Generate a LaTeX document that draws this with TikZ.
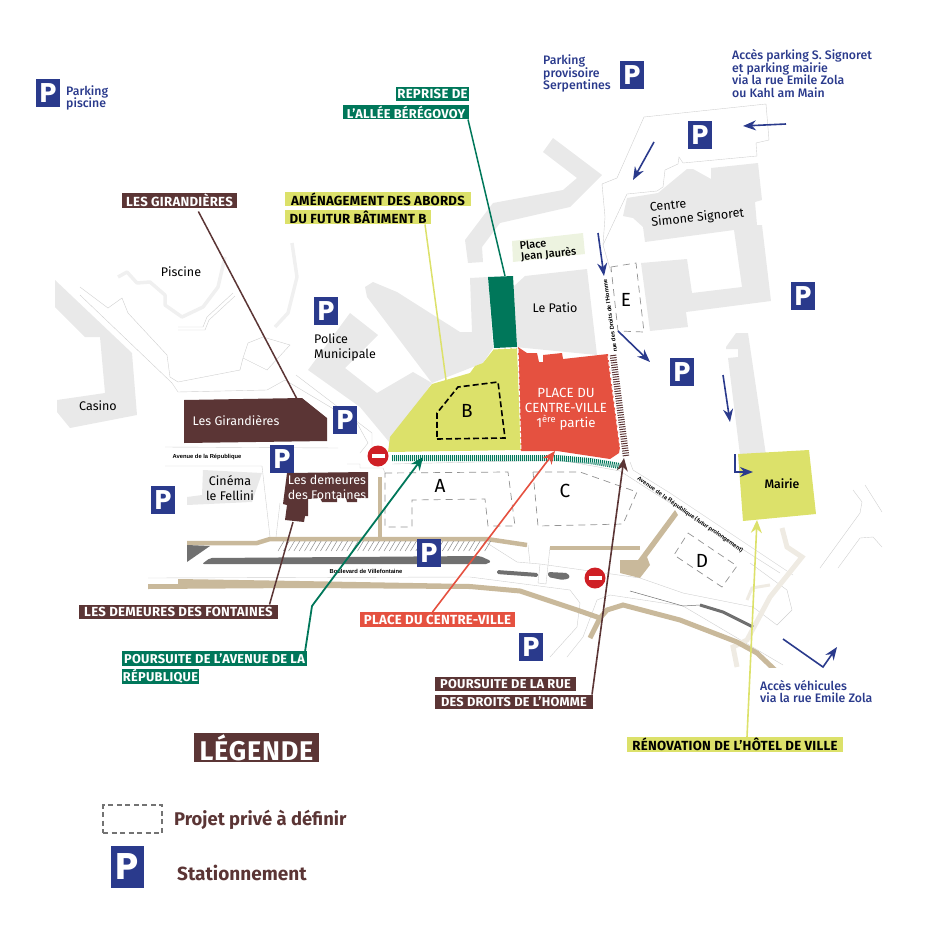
\documentclass[tikz,border=0pt]{standalone}
\usepackage{fontspec}
\setmainfont{Fira Sans}
\newfontfamily\bluefont{Fira Sans Medium}
\newfontfamily\parkfont{Poppins}
\newfontfamily\roadfont{Liberation Sans}
\usetikzlibrary{arrows.meta}
\definecolor{mapgrey}{HTML}{E9E9E9}
\definecolor{mapline}{HTML}{CFCFCF}
\definecolor{maptan}{HTML}{C9B99B}
\definecolor{mappale}{HTML}{EFEBE3}
\definecolor{mapfaint}{HTML}{F0F0F0}
\definecolor{mapdark}{HTML}{707070}
\definecolor{jaurespale}{HTML}{EDF3E0}
\definecolor{parkblue}{HTML}{2A3A8C}
\definecolor{tagbrown}{HTML}{5B3535}
\definecolor{taggreen}{HTML}{00775A}
\definecolor{tagred}{HTML}{E55140}
\definecolor{taglime}{HTML}{DCE16A}
\definecolor{noentryred}{HTML}{CF1F25}
\tikzset{
	building/.style={fill=mapgrey},
	thinroad/.style={draw=mapline,line width=0.4pt},
	tanroad/.style={draw=maptan,line width=4.5pt},
	paleroad/.style={draw=mappale,line width=5pt},
	faintwall/.style={draw=mapfaint,line width=3.5pt,line join=round},
	privatelot/.style={draw=gray!85,line width=0.7pt,dash pattern=on 7pt off 5pt},
	parkbox/.style={fill=parkblue,text=white,minimum width=24.5pt,minimum height=28.5pt,inner sep=0pt,font=\parkfont\bfseries\fontsize{27}{27}\selectfont},
	noentry/.style={circle,fill=noentryred,minimum size=21pt,inner sep=0pt,path picture={\fill[white] (-6.5,-2.2) rectangle (6.5,2.2);}},
	tag/.style={minimum height=14.5pt,inner sep=0pt,font=\fontsize{13.2}{13}\selectfont\bfseries\addfontfeature{LetterSpace=2}},
	tagtight/.style={font=\fontsize{12.8}{13}\selectfont\bfseries\addfontfeature{LetterSpace=2}},
	tagb/.style={tag,fill=tagbrown,text=white},
	tagg/.style={tag,fill=taggreen,text=white},
	tagr/.style={tag,fill=tagred,text=white},
	tagl/.style={tag,fill=taglime,text=black},
	placename/.style={inner sep=0pt,align=center,font=\fontsize{12.5}{15}\selectfont},
	lotname/.style={inner sep=0pt,font=\fontsize{19}{19}\selectfont},
	roadname/.style={inner sep=0pt,font=\roadfont\bfseries\fontsize{5.8}{6}\selectfont},
	bluetext/.style={inner sep=0pt,align=left,anchor=west,text=parkblue,font=\bluefont\fontsize{12.3}{12.6}\selectfont},
	leader/.style={line width=1.5pt},
	blackarrow/.style={line width=1.6pt,-{Stealth[length=13pt,width=11pt]}},
	bluearrow/.style={draw=parkblue,line width=1.6pt,-{Stealth[length=13pt,width=10pt]}}
}
\begin{document}
\begin{tikzpicture}[x=1pt,y=-1pt]
	\useasboundingbox (0,0) rectangle (945,945);
	% buildings
	\fill[building] (55,280)--(132,353)--(137,415)--(70,428)--(57,412)--(57,400)--(105,393)--(100,337)--(85,337)--(55,307)--cycle;
	\fill[building] (365,287)--(373,282)--(397,292)--(460,332)--(472,332)--(470,278)--(488,277)--(493,348)--(483,363)--(432,383)--(367,297)--cycle;
	\fill[building] (308,370)--(350,313)--(378,335)--(345,368)--(377,393)--(413,372)--(432,383)--(390,443)--(360,407)--cycle;
	\fill[building] (543,152)--(553,138)--(602,175)--(570,207)--(500,223)--(482,247)--(483,262)--(468,263)--(465,240)--(493,203)--(563,190)--(577,178)--cycle;
	\fill[building] (525,276)--(587,269)--(597,355)--(515,347)--(513,287)--cycle;
	\fill[building] (627,198)--(658,193)--(687,169)--(693,169)--(711,179)--(711,168)--(758,163)--(762,200)--(755,202)--(757,225)--(762,225)--(771,301)--(686,312)--(688,327)--(650,331)--(641,263)--(687,259)--(692,293)--(742,287)--(734,230)--(645,242)--(643,227)--(633,218)--(623,216)--cycle;
	\fill[building] (726,347)--(736,333)--(748,333)--(766,455)--(740,455)--(728,358)--(738,357)--(738,349)--(726,349)--cycle;
	\fill[building] (203,470)--(262,473)--(252,502)--(187,505)--(187,497)--(202,495)--cycle;
	% thin road outlines
	\draw[thinroad] (80,287)--(108,308)--(122,298)--(128,313)--(167,355)--(170,377)--(178,382)--(240,370)--(243,358)--(267,370)--(290,345)--(263,337)--(248,343)--(243,358);
	\draw[thinroad] (80,295)--(172,383)--(178,392)--(267,390)--(285,380)--(357,423)--(368,443)--(360,453);
	\draw[thinroad] (178,327)--(203,327)--(207,317)--(233,293);
	\draw[thinroad] (178,330)--(205,330)--(209,320)--(235,296);
	\draw[thinroad] (296,375)--(372,433)--(372,450);
	\draw[thinroad] (165,447)--(338,448);
	\draw[thinroad] (165,466)--(262,466)--(270,537);
	\draw[thinroad] (280,503)--(276,537);
	\draw[thinroad] (347,464)--(360,464)--(360,468)--(383,468)--(385,473);
	\draw[thinroad] (644,117)--(766,104)--(769,140)--(756,143)--(757,156)--(683,163)--(679,157)--(678,164)--(665,170)--(663,187)--(657,191)--(627,194)--(603,245)--(611,272);
	\draw[thinroad] (644,117)--(617,178)--(602,184)--(605,217)--(603,245);
	\draw[thinroad] (392,464)--(560,460)--(620,471);
	\draw[thinroad] (630,462)--(633,470)--(670,493)--(793,575);
	\draw[thinroad] (620,471)--(670,503)--(780,573);
	\draw[thinroad] (487,543)--(517,562)--(540,564)--(640,578)--(683,593)--(753,607)--(777,625)--(792,610)--(787,590)--(750,563);
	\draw[thinroad] (610,595)--(683,606)--(783,665);
	\draw[thinroad] (148,578)--(470,577)--(570,590)--(580,603)--(577,627)--(550,657);
	\draw[thinroad] (610,595)--(597,600)--(583,637)--(567,657);
	\draw[thinroad] (528,545)--(530,563);
	\draw[thinroad] (550,547)--(548,565)--(546,584)--(538,583)--(540,564);
	\draw[thinroad] (853,490)--(862,502)--(860,513)--(820,568);
	\draw[thinroad] (865,485)--(882,512);
	\draw[thinroad] (838,568)--(860,538)--(873,537)--(882,547);
	% pale paths
	\draw[faintwall] (118,277)--(127,272)--(137,283)--(150,282)--(165,295)--(165,305)--(182,317)--(203,307)--(218,287)--(225,257);
	\draw[faintwall] (292,243)--(297,277)--(288,313)--(275,327);
	\begin{scope}
		\clip (0,0) rectangle (945,667);
		\draw[paleroad] (782,528)--(787,547)--(802,557)--(770,597)--(747,640)--(733,647)--(737,667);
		\draw[mappale,line width=3pt] (770,585)--(752,588)--(747,600);
		% tan roads
		\fill[maptan] (148,584)--(178,584)--(178,579)--(300,581)--(470,584)--(470,589)--(300,588)--(148,589)--cycle;
		\draw[tanroad,line width=5pt] (470,586.5)--(520,591)--(577,610)--(600,618);
		\draw[tanroad,line width=5pt] (590,638)--(600,618)--(607,610)--(623,605)--(680,620)--(737,642)--(757,653)--(775,670);
	\end{scope}
	\draw[tanroad] (187,543)--(257,543)--(270,539)--(487,539)--(527,545);
	\draw[tanroad] (550,548)--(640,548);
	\draw[tanroad] (380,477)--(380,539);
	\fill[maptan] (675,510)--(678,515)--(647,557)--(650,565)--(640,578)--(620,573)--(620,560)--(638,560)--cycle;
	% dark grey lanes
	\fill[mapdark] (187,545)--(210,546)--(187,562)--cycle;
	\fill[mapdark,rounded corners=2pt] (202,564)--(210,558)--(480,556)--(491,561)--(488,564)--cycle;
	\fill[mapdark,rounded corners=1.5pt] (497,570)--(538,573)--(538,577)--(497,574)--cycle;
	\fill[mapdark,rounded corners=2pt] (548,572)--(568,573)--(570,578)--(563,580)--(548,577)--cycle;
	\draw[mapdark,line width=0.5pt] (630,591)--(683,606)--(700,605);
	\draw[mapdark,line width=3pt] (700,605)--(723,612)--(753,627);
	% crossing stripes
	\foreach \i in {0,...,39}{
		\draw[gray!90,line width=0.5pt] (278+5.3*\i,551)--(284+5.3*\i,541);
	}
	\draw[taggreen,line width=6pt,dash pattern=on 1pt off 1pt] (392,458)--(557,458)--(590,461)--(620,466);
	% project areas
	\fill[taggreen] (488,277)--(513,276)--(517,347)--(494,348)--cycle;
	\fill[taglime] (494,349)--(517,348)--(521,450)--(388,452)--(390,437)--(432,384)--(470,373)--(475,366)--(483,363)--cycle;
	\fill[tagred] (518,347)--(527,353)--(537,353)--(539,362)--(543,362)--(543,355)--(562,353)--(563,359)--(608,354)--(620,447)--(619,453)--(610,459)--(557,451)--(521,451)--cycle;
	\draw[white,line width=1pt,dash pattern=on 4pt off 2pt] (518,349)--(521,451);
	\draw[white,line width=1pt,dash pattern=on 4pt off 2pt] (608,356)--(620,447);
	\draw[white,line width=1pt,dash pattern=on 4pt off 2pt] (494,349)--(517,348);
	\draw[tagbrown,line width=6.5pt,dash pattern=on 1pt off 1.4pt] (613,355)--(626,456);
	\fill[taglime] (738,454)--(809,450)--(816,514)--(743,521)--cycle;
	\fill[jaurespale] (512,241)--(583,233)--(585,254)--(513,262)--cycle;
	% buildings in brown
	\fill[tagbrown] (184,400)--(302,398)--(327,418)--(327,441)--(184,443)--cycle;
	\fill[tagbrown] (287,473)--(368,472)--(368,498)--(357,498)--(357,502)--(347,502)--(346,498)--(337,498)--(337,502)--(322,502)--(320,498)--(308,499)--(308,516)--(305,516)--(304,522)--(285,520)--(287,505)--(283,504)--cycle;
	% dashed lots
	\draw[black,line width=1.6pt,dash pattern=on 6pt off 3pt] (437,439)--(505,438)--(498,382)--(458,387)--(437,413)--cycle;
	\draw[privatelot] (385,473)--(508,472)--(515,526)--(488,526)--(485,499)--(412,500)--(412,527)--(385,527)--cycle;
	\draw[privatelot] (533,472)--(580,472)--(637,492)--(623,524)--(538,526)--cycle;
	\draw[privatelot] (688,533)--(737,566)--(722,587)--(674,555)--cycle;
	\draw[privatelot] (611,267)--(636,263)--(644,332)--(618,331)--cycle;
	% parkings
	\foreach \i/\x/\y in {piscine/48/93,serpentines/632/75,signoret/700/135,mairie/803/296,droits/682/372,police/326/311,girandieres/345/420,republique/282/459,fellini/163/500,boulevard/429/553,sud/531/647}{
		\node[parkbox] (park\i) at (\x,\y) {P};
	}
	\node[parkbox,minimum width=33pt,minimum height=42pt,font=\parkfont\bfseries\fontsize{37}{37}\selectfont] (parklegend) at (127.5,867) {P};
	\node[noentry] (noentryA) at (378,456) {};
	\node[noentry] (noentryB) at (595,578) {};
	% places
	\node[placename] (casino) at (98,406) {Casino};
	\node[placename] (piscine) at (181,272) {Piscine};
	\node[placename,align=left] (policemun) at (345,347) {Police\\Municipale};
	\node[placename] (fellini) at (230,488) {Cinéma\\le Fellini};
	\node[placename] (patio) at (555,308) {Le Patio};
	\node[placename,text=white] (girandieres) at (236,421) {Les Girandières};
	\node[placename,text=white] (demeures) at (327,487) {Les demeures\\des Fontaines};
	\node[placename,font=\bluefont\fontsize{11}{11}\selectfont,align=left,rotate=6] (jaures) at (548,249) {Place\\Jean Jaurès};
	\node[placename,align=left,rotate=6] (signoret) at (697,211) {Centre\\Simone Signoret};
	\node[placename,font=\bluefont\fontsize{12.3}{15}\selectfont] (mairie) at (782,484) {Mairie};
	\node[placename,text=white,font=\fontsize{13.3}{15}\selectfont] (centreville) at (566,409) {PLACE DU\\CENTRE-VILLE\\1\textsuperscript{ère} partie};
	\node[lotname] (lotA) at (440,486) {A};
	\node[lotname] (lotB) at (467,411) {B};
	\node[lotname] (lotC) at (565,491) {C};
	\node[lotname] (lotD) at (702,561) {D};
	\node[lotname] (lotE) at (626,300) {E};
	\node[roadname] (avenue) at (207,457) {Avenue de la République};
	\node[roadname] (blvd) at (366,571) {Boulevard de Villefontaine};
	\node[roadname,rotate=98] (rue) at (610,316) {rue des Droits de l'Homme};
	\node[roadname,rotate=-35] (aveplus) at (690,515) {Avenue de la République (futur prolongement)};
	% blue captions
	\node[bluetext] (txtpiscine) at (66,98) {Parking\\piscine};
	\node[bluetext] (txtserpentines) at (543,73.5) {Parking\\provisoire\\Serpentines};
	\node[bluetext] (txtsignoret) at (732,73.5) {Accès parking S. Signoret\\et parking mairie\\via la rue Emile Zola\\ou Kahl am Main};
	\node[bluetext] (txtvehicules) at (760,691.5) {Accès véhicules\\via la rue Emile Zola};
	% tags
	\node[tagb,minimum width=115pt] (tagGirandieres) at (179.5,200.5) {LES GIRANDIÈRES};
	\node[tagl,minimum width=186pt] (tagAbordsA) at (378,199) {AMÉNAGEMENT DES ABORDS};
	\node[tagl,minimum width=146pt] (tagAbordsB) at (358,217) {DU FUTUR BÂTIMENT B};
	\node[tagg,minimum width=73pt] (tagAlleeA) at (432.5,94) {REPRISE DE};
	\node[tagg,tagtight,minimum width=126pt] (tagAlleeB) at (406,112) {L'ALLÉE BÉRÉGOVOY};
	\node[tagb,minimum width=199pt] (tagDemeures) at (178.5,612) {LES DEMEURES DES FONTAINES};
	\node[tagg,tagtight,minimum width=185pt] (tagAvenueA) at (214.5,658.5) {POURSUITE DE L'AVENUE DE LA};
	\node[tagg,tagtight,minimum width=77pt] (tagAvenueB) at (160.5,676.5) {RÉPUBLIQUE};
	\node[tagr,minimum width=155pt] (tagCentre) at (437.5,619.5) {PLACE DU CENTRE-VILLE};
	\node[tagb,tagtight,minimum width=141pt] (tagRueA) at (505.5,684) {POURSUITE DE LA RUE};
	\node[tagb,tagtight,minimum width=158pt] (tagRueB) at (514,702) {DES DROITS DE L'HOMME};
	\node[tagl,minimum width=216pt] (tagHotel) at (735,744.5) {RÉNOVATION DE L'HÔTEL DE VILLE};
	% leaders and arrows
	\coordinate (endGirandieres) at (297,399);
	\coordinate (endAbords) at (446,380);
	\coordinate (endAllee) at (505,276);
	\coordinate (endDemeures) at (293,522);
	\coordinate (bendAvenue) at (312,606);
	\coordinate (endAvenue) at (423,457);
	\coordinate (endCentre) at (555,451);
	\coordinate (endRue) at (624,458);
	\coordinate (endHotel) at (757,520);
	\draw[leader,tagbrown,shorten <=4pt] ([xshift=17pt]tagGirandieres.south)--(endGirandieres);
	\draw[leader,taglime] ([xshift=67pt]tagAbordsB.south)--(endAbords);
	\draw[leader,taggreen] ([xshift=62pt]tagAlleeB.south)--(endAllee);
	\draw[leader,tagbrown] ([xshift=91pt]tagDemeures.north)--(endDemeures);
	\draw[blackarrow,taggreen,line width=1.8pt] ([xshift=90pt,yshift=-4pt]tagAvenueA.north)--(bendAvenue)--(endAvenue);
	\draw[blackarrow,tagred] ([xshift=-5pt]tagCentre.north)--(endCentre);
	\draw[blackarrow,tagbrown] ([xshift=78pt]tagRueB.north)--(endRue);
	\draw[blackarrow,taglime] ([xshift=12pt]tagHotel.north)--(endHotel);
	% access arrows
	\coordinate (a1) at (786,124); \coordinate (a2) at (743,126);
	\coordinate (b1) at (654,142); \coordinate (b2) at (633,180);
	\coordinate (c1) at (598,233); \coordinate (c2) at (604,276);
	\coordinate (d1) at (618,331); \coordinate (d2) at (650,362);
	\coordinate (e1) at (723,375); \coordinate (e2) at (730,422);
	\coordinate (f1) at (735,454); \coordinate (f2) at (735,472); \coordinate (f3) at (753,472);
	\coordinate (g1) at (783,639); \coordinate (g2) at (823,667); \coordinate (g3) at (837,647);
	\draw[bluearrow] (a1)--(a2);
	\draw[bluearrow] (b1)--(b2);
	\draw[bluearrow] (c1)--(c2);
	\draw[bluearrow] (d1)--(d2);
	\draw[bluearrow] (e1)--(e2);
	\draw[bluearrow] (f1)--(f2)--(f3);
	\draw[bluearrow] (g1)--(g2)--(g3);
	% legend
	\node[minimum width=125pt,minimum height=29pt,inner sep=0pt,fill=tagbrown,text=white,font=\fontsize{27}{27}\selectfont\bfseries\addfontfeature{LetterSpace=3}] (legendtitle) at (256.5,747.5) {LÉGENDE};
	\node[draw=gray!90!black,line width=1.3pt,dash pattern=on 5pt off 3.5pt,minimum width=59pt,minimum height=28pt,inner sep=0pt] (legendbox) at (132.5,819) {};
	\node[inner sep=0pt,anchor=west,text=tagbrown,font=\fontsize{18.4}{18}\selectfont\bfseries] (legendlot) at (174,820) {Projet privé à définir};
	\node[inner sep=0pt,anchor=west,text=tagbrown,font=\fontsize{19}{19}\selectfont\bfseries] (legendpark) at (177,873) {Stationnement};
\end{tikzpicture}
\end{document}
